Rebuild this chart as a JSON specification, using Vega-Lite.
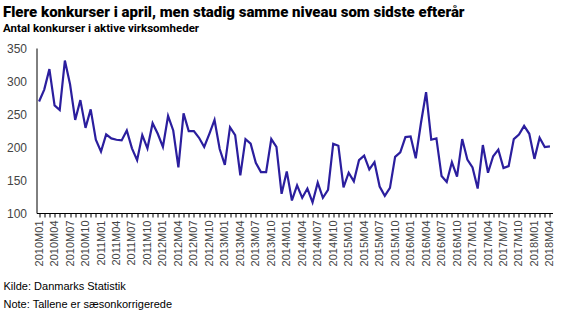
{
  "$schema": "https://vega.github.io/schema/vega-lite/v6.json",
  "width": 516,
  "height": 165,
  "autosize": {"type": "none"},
  "padding": {"left": 36.5, "top": 48, "right": 14.5, "bottom": 111},
  "background": "white",
  "title": {
    "text": "Flere konkurser i april, men stadig samme niveau som sidste efterår",
    "subtitle": "Antal konkurser i aktive virksomheder",
    "anchor": "start",
    "frame": "bounds",
    "font": "Roboto",
    "fontSize": 15,
    "fontWeight": 900,
    "color": "#000000",
    "subtitleFont": "Roboto",
    "subtitleFontSize": 11.5,
    "subtitleFontWeight": "bold",
    "subtitleColor": "#000000",
    "subtitlePadding": 3,
    "offset": 8
  },
  "config": {
    "view": {"stroke": null},
    "axis": {"grid": false}
  },
  "data": {
    "values": [
      {"m":"2010M01","v":269},{"m":"2010M02","v":287},{"m":"2010M03","v":318},{"m":"2010M04","v":263},{"m":"2010M05","v":256},{"m":"2010M06","v":331},{"m":"2010M07","v":295},{"m":"2010M08","v":241},{"m":"2010M09","v":271},{"m":"2010M10","v":229},{"m":"2010M11","v":257},{"m":"2010M12","v":211},
      {"m":"2011M01","v":193},{"m":"2011M02","v":219},{"m":"2011M03","v":213},{"m":"2011M04","v":211},{"m":"2011M05","v":210},{"m":"2011M06","v":225},{"m":"2011M07","v":198},{"m":"2011M08","v":180},{"m":"2011M09","v":218},{"m":"2011M10","v":198},{"m":"2011M11","v":236},{"m":"2011M12","v":220},
      {"m":"2012M01","v":200},{"m":"2012M02","v":247},{"m":"2012M03","v":225},{"m":"2012M04","v":169},{"m":"2012M05","v":251},{"m":"2012M06","v":224},{"m":"2012M07","v":224},{"m":"2012M08","v":214},{"m":"2012M09","v":200},{"m":"2012M10","v":220},{"m":"2012M11","v":241},{"m":"2012M12","v":197},
      {"m":"2013M01","v":173},{"m":"2013M02","v":230},{"m":"2013M03","v":218},{"m":"2013M04","v":157},{"m":"2013M05","v":212},{"m":"2013M06","v":205},{"m":"2013M07","v":176},{"m":"2013M08","v":162},{"m":"2013M09","v":162},{"m":"2013M10","v":212},{"m":"2013M11","v":200},{"m":"2013M12","v":129},
      {"m":"2014M01","v":163},{"m":"2014M02","v":119},{"m":"2014M03","v":142},{"m":"2014M04","v":123},{"m":"2014M05","v":137},{"m":"2014M06","v":116},{"m":"2014M07","v":146},{"m":"2014M08","v":123},{"m":"2014M09","v":135},{"m":"2014M10","v":205},{"m":"2014M11","v":202},{"m":"2014M12","v":139},
      {"m":"2015M01","v":161},{"m":"2015M02","v":148},{"m":"2015M03","v":180},{"m":"2015M04","v":187},{"m":"2015M05","v":166},{"m":"2015M06","v":177},{"m":"2015M07","v":140},{"m":"2015M08","v":126},{"m":"2015M09","v":138},{"m":"2015M10","v":185},{"m":"2015M11","v":192},{"m":"2015M12","v":215},
      {"m":"2016M01","v":216},{"m":"2016M02","v":183},{"m":"2016M03","v":236},{"m":"2016M04","v":283},{"m":"2016M05","v":211},{"m":"2016M06","v":213},{"m":"2016M07","v":156},{"m":"2016M08","v":147},{"m":"2016M09","v":177},{"m":"2016M10","v":155},{"m":"2016M11","v":212},{"m":"2016M12","v":181},
      {"m":"2017M01","v":169},{"m":"2017M02","v":137},{"m":"2017M03","v":203},{"m":"2017M04","v":161},{"m":"2017M05","v":186},{"m":"2017M06","v":196},{"m":"2017M07","v":168},{"m":"2017M08","v":171},{"m":"2017M09","v":212},{"m":"2017M10","v":219},{"m":"2017M11","v":232},{"m":"2017M12","v":220},
      {"m":"2018M01","v":182},{"m":"2018M02","v":214},{"m":"2018M03","v":200},{"m":"2018M04","v":201}
    ]
  },
  "mark": {"type": "line", "color": "#2B1E9E", "strokeWidth": 2.2},
  "encoding": {
    "x": {
      "field": "m",
      "type": "ordinal",
      "scale": {"type": "point", "padding": 0.5},
      "axis": {
        "labelExpr": "indexof(['01','04','07','10'], slice(datum.value, -2)) >= 0 ? datum.value : ''",
        "labelAngle": -90,
        "labelOverlap": false,
        "labelFont": "Liberation Sans",
        "labelFontSize": 11,
        "labelColor": "#444444",
        "labelPadding": 3,
        "tickSize": 4,
        "tickColor": "#000000",
        "domainColor": "#000000",
        "title": ["Kilde: Danmarks Statistik", "Note:  Tallene er sæsonkorrigerede"],
        "titleFont": "Liberation Sans",
        "titleFontSize": 11,
        "titleFontWeight": "normal",
        "titleColor": "#000000",
        "titleAnchor": "start",
        "titleAlign": "left",
        "titleBaseline": "alphabetic",
        "titleLineHeight": 18,
        "titleX": -33.5,
        "titleY": 76
      }
    },
    "y": {
      "field": "v",
      "type": "quantitative",
      "scale": {"domain": [100, 350], "nice": false, "zero": false},
      "axis": {
        "values": [100, 150, 200, 250, 300, 350],
        "title": null,
        "labelFont": "Liberation Sans",
        "labelFontSize": 12,
        "labelColor": "#444444",
        "labelPadding": 10,
        "ticks": false,
        "domainColor": "#000000"
      }
    }
  }
}
